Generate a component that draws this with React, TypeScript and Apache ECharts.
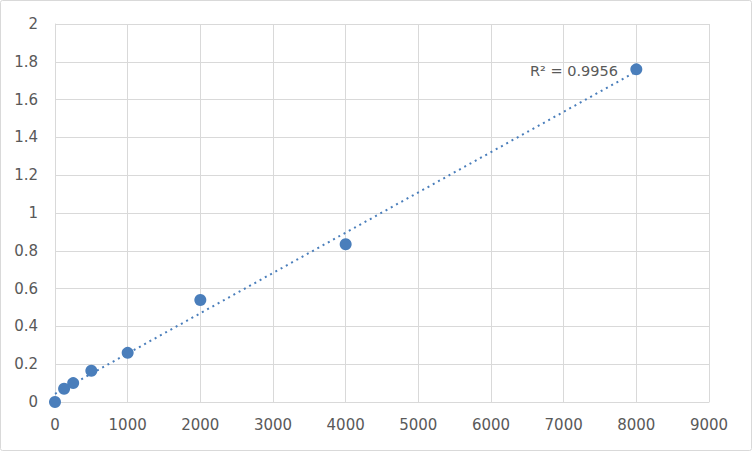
import React, { useEffect, useRef } from "react";
import * as echarts from "echarts";

const xValues = [0, 125, 250, 500, 1000, 2000, 4000, 8000];
const yValues = [0, 0.07, 0.1, 0.165, 0.26, 0.54, 0.835, 1.76];
const rSquaredLabel = "R² = 0.9956";

function linearFit(xs: number[], ys: number[]) {
  const n = xs.length;
  const mx = xs.reduce((a, b) => a + b, 0) / n;
  const my = ys.reduce((a, b) => a + b, 0) / n;
  let sxy = 0, sxx = 0;
  for (let i = 0; i < n; i++) {
    sxy += (xs[i] - mx) * (ys[i] - my);
    sxx += (xs[i] - mx) ** 2;
  }
  const slope = sxy / sxx;
  return { slope, intercept: my - slope * mx };
}

export default function App() {
  const ref = useRef<HTMLDivElement>(null);
  useEffect(() => {
    document.body.style.margin = "0";
    const chart = echarts.init(ref.current!, null, { renderer: "svg" });
    const { slope, intercept } = linearFit(xValues, yValues);
    const xMin = Math.min(...xValues);
    const xMax = Math.max(...xValues);
    const trend = [
      [xMin, intercept + slope * xMin],
      [xMax, intercept + slope * xMax],
    ];
    const textStyle = { color: "#595959", fontSize: 15, fontFamily: "DejaVu Sans" };
    chart.setOption({
      animation: false,
      backgroundColor: "#ffffff",
      grid: { left: 55, top: 24, right: 43, bottom: 50, containLabel: false },
      xAxis: {
        type: "value",
        min: 0,
        max: 9000,
        interval: 1000,
        axisLine: { show: true, lineStyle: { color: "#d9d9d9", width: 1 } },
        axisTick: { show: false },
        splitLine: { show: true, lineStyle: { color: "#d9d9d9", width: 1 } },
        axisLabel: { ...textStyle, margin: 15, formatter: (v: number) => String(v) },
      },
      yAxis: {
        type: "value",
        min: 0,
        max: 2,
        interval: 0.2,
        axisLine: { show: true, lineStyle: { color: "#d9d9d9", width: 1 } },
        axisTick: { show: false },
        splitLine: { show: true, lineStyle: { color: "#d9d9d9", width: 1 } },
        axisLabel: { ...textStyle, margin: 17, formatter: (v: number) => String(Math.round(v * 10) / 10) },
      },
      graphic: [
        {
          type: "rect",
          shape: { x: 0.5, y: 0.5, width: 751, height: 450, r: 2 },
          style: { fill: "none", stroke: "#d9d9d9", lineWidth: 1 },
          silent: true,
          z: 100,
        },
        {
          type: "text",
          x: 618,
          y: 71,
          style: {
            text: rSquaredLabel,
            fill: "#595959",
            fontSize: 14.5,
            fontFamily: "DejaVu Sans",
            align: "right",
            verticalAlign: "middle",
          },
          z: 100,
        },
      ],
      series: [
        {
          type: "line",
          data: trend,
          showSymbol: false,
          symbol: "none",
          lineStyle: { color: "#4a7ebb", width: 2, type: [2, 4] },
          z: 2,
        },
        {
          type: "scatter",
          data: xValues.map((x, i) => [x, yValues[i]]),
          symbol: "circle",
          symbolSize: 12,
          itemStyle: { color: "#4a7ebb", opacity: 1 },
          z: 3,
        },
      ],
    });
    return () => chart.dispose();
  }, []);
  return <div ref={ref} style={{ width: 752, height: 452 }} />;
}
